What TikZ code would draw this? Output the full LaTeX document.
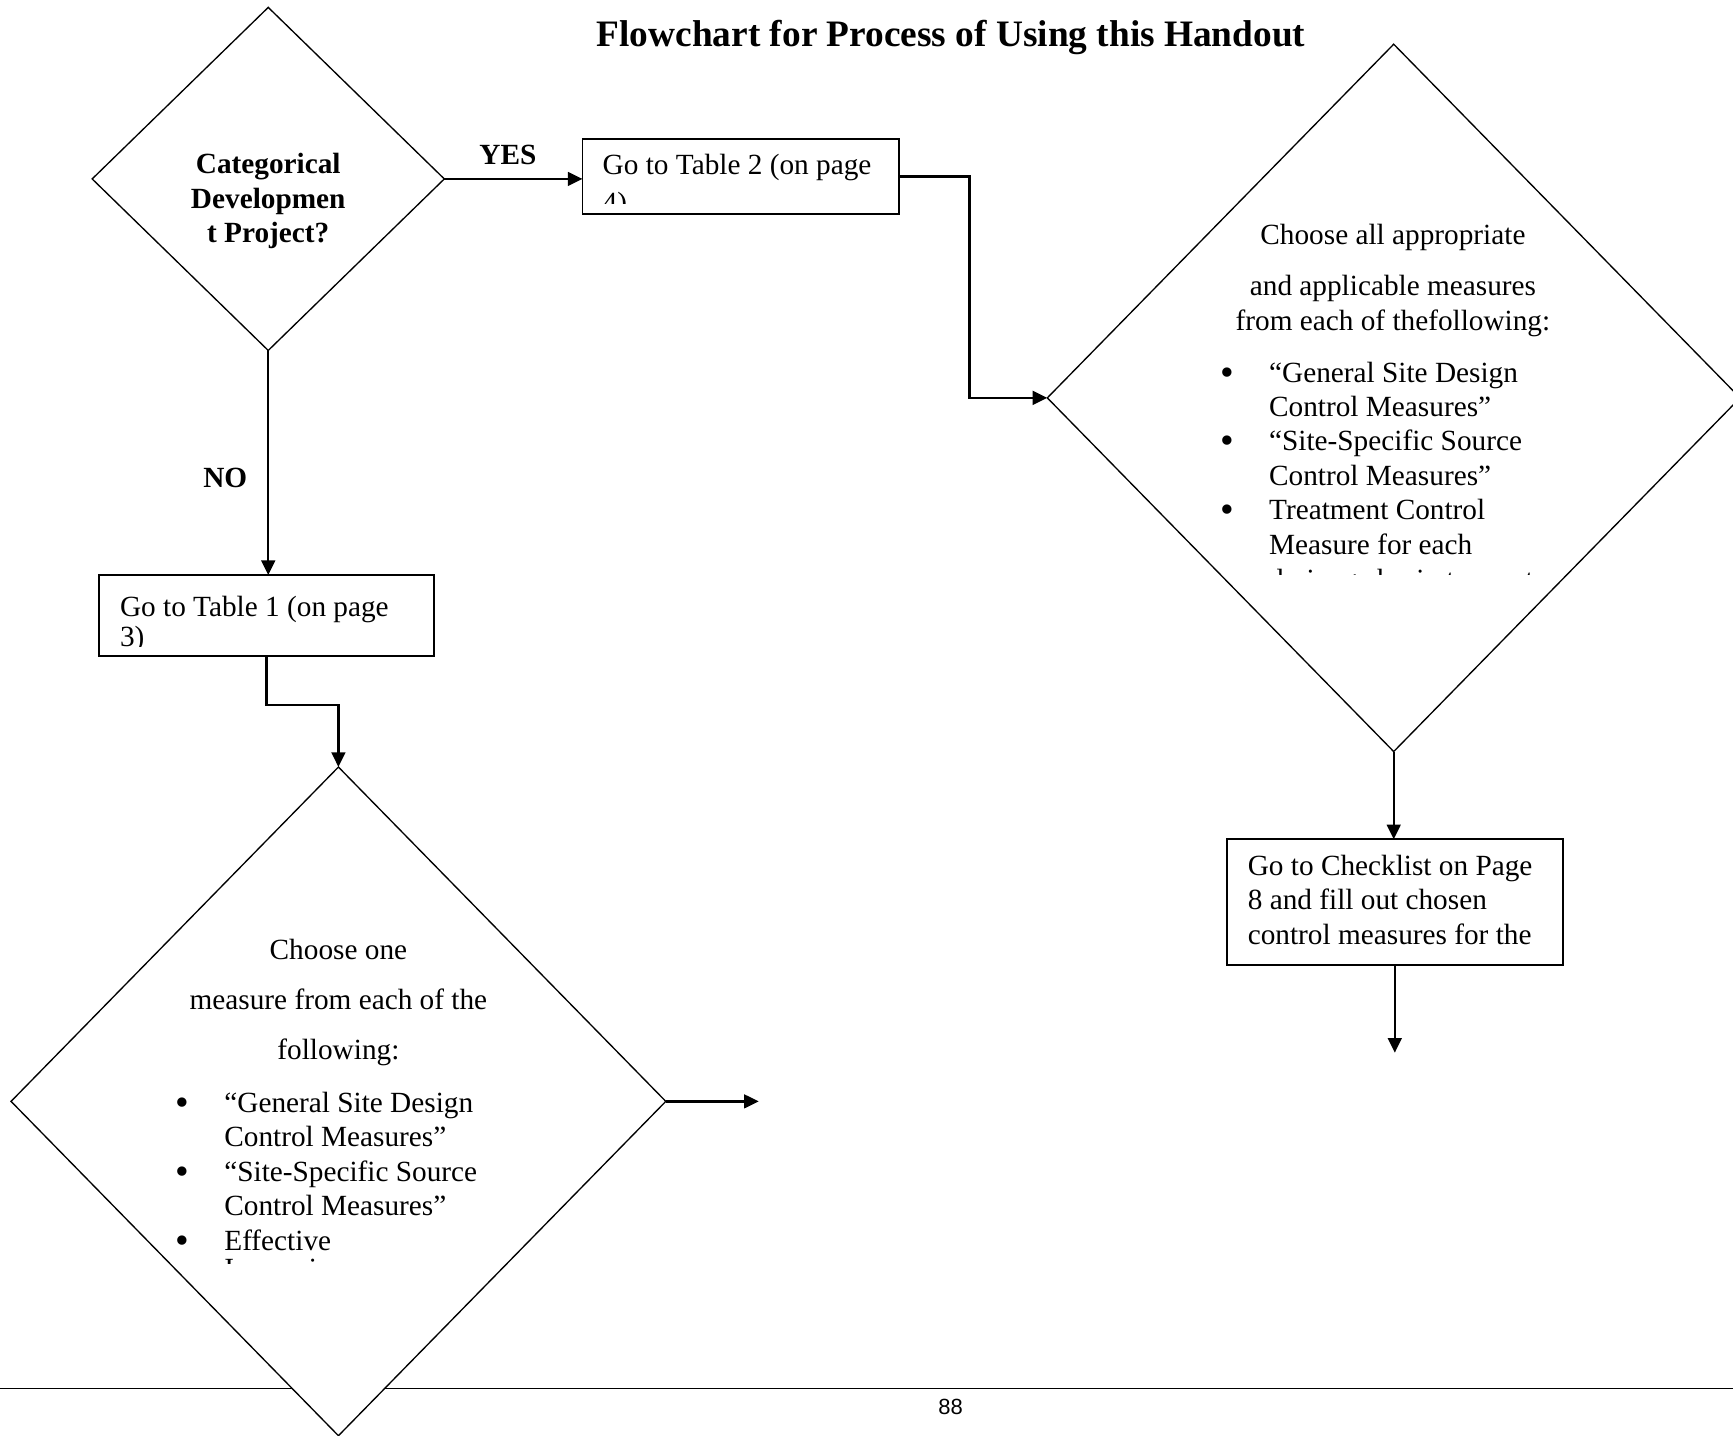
\documentclass[tikz,border=0pt]{standalone}
\usepackage{fontspec}
\setmainfont{Liberation Serif}
\newfontfamily\pagenumfont{Liberation Sans}
\usetikzlibrary{positioning}
\usetikzlibrary{shapes.geometric,arrows.meta}
\newcommand\flowpx{0.453pt}
\pgfkeys{tikz/myflowenv/.style={x=\flowpx,y=-\flowpx,font=\fontsize{12}{14.1}\selectfont}}
\pgfkeys{tikz/mysize/.style 2 args={minimum width=#1*\flowpx,minimum height=#2*\flowpx}}
\pgfkeys{tikz/mydecision/.style={diamond,draw,line width=0.55pt,fill=white,inner sep=0pt,outer sep=0pt}}
\pgfkeys{tikz/mybox/.style={rectangle,draw,line width=0.75pt,fill=white,inner sep=0pt,outer sep=0pt}}
\pgfkeys{tikz/myarrow/.style={line width=1pt,-{Triangle[length=6pt,width=5.6pt]}}}
\pgfkeys{tikz/mytext/.style={inner sep=0pt,outer sep=0pt,align=left,anchor=base west}}
\pgfkeys{tikz/mylabel/.style={inner sep=0pt,outer sep=0pt,font=\fontsize{12}{14.1}\selectfont\bfseries}}
\newcommand\mybul{\llap{\raisebox{-1.25pt}{\fontsize{16}{14.1}\selectfont\textbullet}\hspace{14.4pt}}}
\newcommand*\mycutline[5]{
\begin{scope}
  \clip (#2-10,#4) rectangle (#2+400,#4-40);
  \node[mytext] (#1) at (#2,#3) {#5};
\end{scope}
}

\begin{document}
\begin{tikzpicture}[myflowenv]
\useasboundingbox (0,0) rectangle (1568,1299);

% footer
\draw[line width=0.5pt] (0,1256) -- (1568,1256);
\node[inner sep=0pt,anchor=base,font=\pagenumfont\fontsize{9}{11}\selectfont] (page-num) at (860,1280) {88};

\node[inner sep=0pt,anchor=base,font=\fontsize{15.3}{18}\selectfont\bfseries] (title) at (860.5,42.4) {Flowchart for Process of Using this Handout};

% shapes
\node[mydecision,mysize={318.6}{310.4}] (dec-1) at (242.7,161.9) {};
\node[mydecision,mysize={626.8}{640}] (dec-2) at (1261,360) {};
\node[mydecision,mysize={592.4}{605}] (dec-3) at (306.2,996.5) {};
\node[mybox,mysize={303.1}{73.3}] (box-1) at (241.2,557) {};
\node[mybox,mysize={286.7}{68}] (box-2) at (670.4,159.5) {};
\node[mybox,mysize={304}{113.8}] (box-4) at (1262,816.3) {};

% texts (multi-line nodes sit on their last line)
\node[mylabel,align=center,anchor=base] (dec-1-text) at (242.7,219.5) {Categorical\\Developmen\\t Project?};
\node[mytext] (box-2-text) at (545.3,158.3) {Go to Table 2 (on page};
\mycutline{box-2-cut}{545.3}{192}{183.7}{4)}
\node[mytext] (box-1-text) at (108.6,557.4) {Go to Table 1 (on page};
\mycutline{box-1-cut}{108.6}{585}{584.5}{3)}
\node[mytext] (box-4-text) at (1129,854.4) {Go to Checklist on Page\\8 and fill out chosen\\control measures for the};

\node[mytext,align=center,anchor=base] (dec-2-text) at (1260.3,298.6) {Choose all appropriate\\[6.75pt]and applicable measures\\from each of thefollowing:};
\node[mytext] (dec-2-list) at (1148.3,501.3) {\mybul “General Site Design\\Control Measures”\\\mybul “Site-Specific Source\\Control Measures”\\\mybul Treatment Control\\Measure for each};
\mycutline{dec-2-cut}{1148.3}{533}{519.5}{drainage basin to meet}

\node[mytext,align=center,anchor=base] (dec-3-text) at (306.2,958.6) {Choose one\\[6.3pt]measure from each of the\\[6.3pt]following:};
\node[mytext] (dec-3-list) at (203,1131) {\mybul “General Site Design\\Control Measures”\\\mybul “Site-Specific Source\\Control Measures”\\\mybul Effective};
\mycutline{dec-3-cut}{203}{1157}{1143}{Impervious}

% connectors
\coordinate (end-3) at (686.5,996.5);
\coordinate (end-4) at (1262,952.5);
\draw[myarrow] (dec-1.east) -- node[mylabel,above=5.8pt,pos=0.46] (yes) {YES} (dec-1.east -| box-2.west);
\draw[myarrow] (dec-1.south) -- node[mylabel,left=8.6pt,pos=0.568] (no) {NO} (dec-1.south |- box-1.north);
\draw[myarrow] (box-2.east) -- ++(63.3,0) |- (dec-2.west);
\draw[myarrow] (box-1.south) -- ++(0,44.4) -| (dec-3.north);
\draw[myarrow] (dec-2.south) -- (dec-2.south |- box-4.north);
\draw[myarrow] (box-4.south) -- (end-4);
\draw[myarrow] (dec-3.east) -- (end-3);

\end{tikzpicture}
\end{document}
